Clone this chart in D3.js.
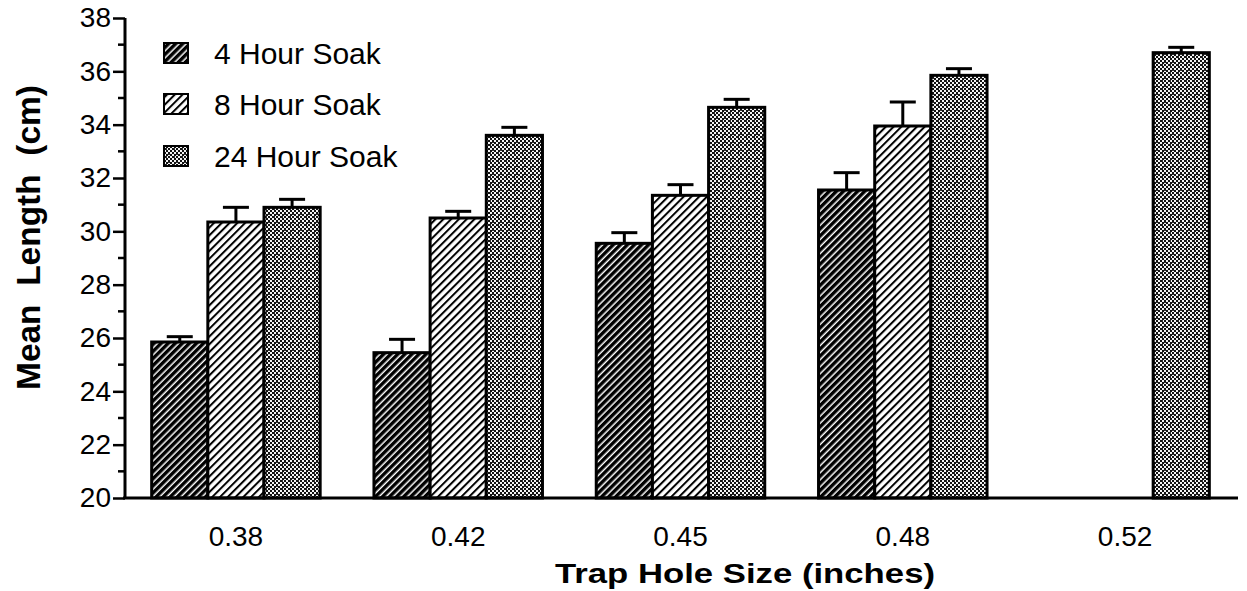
<!DOCTYPE html>
<html>
<head>
<meta charset="utf-8">
<script src="https://cdn.jsdelivr.net/npm/d3@7"></script>
<style>
  body { margin: 0; background: #fff; }
  svg { display: block; }
  text { font-family: "Liberation Sans", Arial, sans-serif; fill: #000; }
</style>
</head>
<body>
<svg width="1247" height="591"></svg>
<script>
// Data
const holeSizes = ["0.38", "0.42", "0.45", "0.48", "0.52"];
const soaks = ["4 Hour Soak", "8 Hour Soak", "24 Hour Soak"];
const mean4 = [25.85, 25.45, 29.55, 31.55, null];
const se4 = [0.2, 0.5, 0.4, 0.65, null];
const mean8 = [30.35, 30.5, 31.35, 33.95, null];
const se8 = [0.55, 0.25, 0.4, 0.9, null];
const mean24 = [30.9, 33.6, 34.65, 35.85, 36.7];
const se24 = [0.3, 0.3, 0.3, 0.25, 0.2];
const yTicks = [20, 22, 24, 26, 28, 30, 32, 34, 36, 38];

let svg = d3.select("svg");

// rows for drawing
let means = [mean4, mean8, mean24], ses = [se4, se8, se24];
let rows = [];
holeSizes.forEach((h, i) => {
    soaks.forEach((s, j) => {
        if (means[j][i] != null) rows.push({ hole: h, soak: s, k: j, mean: means[j][i], se: ses[j][i] });
    });
});

// --------------- //
// PATTERNS //
// --------------- //
let defs = svg.append("defs");

let p4 = defs.append("pattern").attr("id", "p4")
    .attr("patternUnits", "userSpaceOnUse").attr("width", 5).attr("height", 5)
    .attr("patternTransform", "rotate(45)");
p4.append("rect").attr("width", 5).attr("height", 5).attr("fill", "#fff");
p4.append("rect").attr("width", 3.5).attr("height", 5).attr("fill", "#000");

let p8 = defs.append("pattern").attr("id", "p8")
    .attr("patternUnits", "userSpaceOnUse").attr("width", 5.5).attr("height", 5.5)
    .attr("patternTransform", "rotate(45)");
p8.append("rect").attr("width", 5.5).attr("height", 5.5).attr("fill", "#fff");
p8.append("rect").attr("width", 2).attr("height", 5.5).attr("fill", "#000");

// stipple: checkerboard with a few darker specks
let p24 = defs.append("pattern").attr("id", "p24")
    .attr("patternUnits", "userSpaceOnUse").attr("width", 8).attr("height", 8);
p24.append("rect").attr("width", 8).attr("height", 8).attr("fill", "#f4f4f4");
[[0, 0], [4, 0], [2, 2], [6, 2], [0, 4], [4, 4], [2, 6], [6, 6]].forEach(c => {
    p24.append("rect").attr("x", c[0]).attr("y", c[1]).attr("width", 2).attr("height", 2).attr("fill", "#111");
});
p24.append("rect").attr("x", 2).attr("y", 0).attr("width", 1).attr("height", 2).attr("fill", "#333");
p24.append("rect").attr("x", 4).attr("y", 6).attr("width", 2).attr("height", 1).attr("fill", "#333");

let fills = ["url(#p4)", "url(#p8)", "url(#p24)"];

// --------------- //
// SCALES //
// --------------- //
let x0 = d3.scaleBand()
    .domain(holeSizes)
    .range([125, 1236])
    .paddingInner(0.242)
    .paddingOuter(0.12);

let x1 = d3.scaleBand()
    .domain(soaks)
    .range([0, x0.bandwidth()]);

let y = d3.scaleLinear()
    .domain([20, 38])
    .range([498, 18]);

// --------------- //
// BARS //
// --------------- //
let bars = svg.append("g");

bars.selectAll("rect")
    .data(rows)
    .enter()
    .append("rect")
    .attr("x", d => x0(d.hole) + x1(d.soak))
    .attr("y", d => y(d.mean))
    .attr("width", x1.bandwidth())
    .attr("height", d => y(20) - y(d.mean))
    .attr("fill", d => fills[d.k])
    .attr("stroke", "#000")
    .attr("stroke-width", 3);

// error bars
let eb = svg.append("g").attr("stroke", "#000").attr("stroke-width", 3);
eb.selectAll(".stem")
    .data(rows)
    .enter()
    .append("line")
    .attr("x1", d => x0(d.hole) + x1(d.soak) + x1.bandwidth() / 2)
    .attr("x2", d => x0(d.hole) + x1(d.soak) + x1.bandwidth() / 2)
    .attr("y1", d => y(d.mean))
    .attr("y2", d => y(d.mean + d.se));
eb.selectAll(".cap")
    .data(rows)
    .enter()
    .append("line")
    .attr("x1", d => x0(d.hole) + x1(d.soak) + x1.bandwidth() / 2 - 13)
    .attr("x2", d => x0(d.hole) + x1(d.soak) + x1.bandwidth() / 2 + 13)
    .attr("y1", d => y(d.mean + d.se))
    .attr("y2", d => y(d.mean + d.se));

// --------------- //
// AXES //
// --------------- //
let yAxis = svg.append("g")
    .attr("transform", "translate(125,0)")
    .call(d3.axisLeft(y).tickValues(yTicks).tickSize(12).tickPadding(2).tickFormat(d3.format("d")));
yAxis.select(".domain").attr("stroke-width", 3).attr("d", "M0," + y(38) + "V" + y(20));
yAxis.selectAll(".tick line").attr("stroke-width", 2.5);
yAxis.selectAll(".tick text").style("font-size", "28px").attr("font-family", null);

// minor ticks at odd values
yAxis.selectAll(".minor")
    .data(d3.range(21, 38, 2))
    .enter()
    .append("line")
    .attr("x1", -7).attr("x2", 0)
    .attr("y1", d => y(d)).attr("y2", d => y(d))
    .attr("stroke", "#000").attr("stroke-width", 2.5);

let xAxis = svg.append("g")
    .attr("transform", "translate(0," + y(20) + ")")
    .call(d3.axisBottom(x0).tickSize(0).tickPadding(28));
xAxis.select(".domain").attr("stroke-width", 3).attr("d", "M123,0H1238");
xAxis.selectAll(".tick text").style("font-size", "28px").attr("font-family", null);

// axis titles
svg.append("text")
    .attr("x", 555).attr("y", 583)
    .attr("textLength", 380).attr("lengthAdjust", "spacingAndGlyphs")
    .style("font-size", "28px").style("font-weight", "bold")
    .text("Trap Hole Size (inches)");

svg.append("text")
    .attr("transform", "translate(40,390) rotate(-90)")
    .attr("textLength", 305).attr("lengthAdjust", "spacingAndGlyphs")
    .style("font-size", "33px").style("font-weight", "bold")
    .attr("xml:space", "preserve")
    .text("Mean  Length  (cm)");

// --------------- //
// LEGEND //
// --------------- //
let legend = svg.append("g");
let legendY = [53, 104, 156];
let lg = legend.selectAll("g")
    .data(soaks)
    .enter()
    .append("g")
    .attr("transform", (d, i) => "translate(164," + legendY[i] + ")");
lg.append("rect")
    .attr("x", 0).attr("y", -10)
    .attr("width", 24).attr("height", 20)
    .attr("fill", (d, i) => fills[i])
    .attr("stroke", "#000").attr("stroke-width", 2);
lg.append("text")
    .attr("x", 50).attr("y", 11)
    .style("font-size", "30px")
    .text(d => d);
</script>
</body>
</html>
